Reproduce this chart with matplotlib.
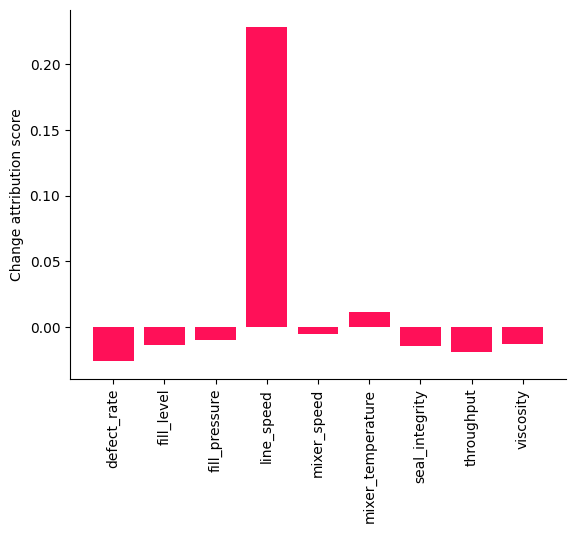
import numpy as np
import matplotlib.pyplot as plt

# feature names and change attribution scores
features = ['defect_rate', 'fill_level', 'fill_pressure', 'line_speed', 'mixer_speed',
            'mixer_temperature', 'seal_integrity', 'throughput', 'viscosity']
scores = [-0.0255, -0.0134, -0.0096, 0.2288, -0.0051, 0.0114, -0.0142, -0.0187, -0.0126]

fig = plt.figure(figsize=(5.76, 5.33), dpi=100)
ax = fig.add_axes([70 / 576, 1 - 379 / 533, 496 / 576, 369 / 533])
ax.bar(features, scores, color='#ff1058')
ax.set_ylabel('Change attribution score')
ax.set_ylim(-0.0395, 0.2415)
ax.set_yticks([0.0, 0.05, 0.10, 0.15, 0.20])
ax.tick_params(axis='x', labelrotation=90)
ax.spines['top'].set_visible(False)
ax.spines['right'].set_visible(False)

fig.savefig('out.png', dpi=100)
